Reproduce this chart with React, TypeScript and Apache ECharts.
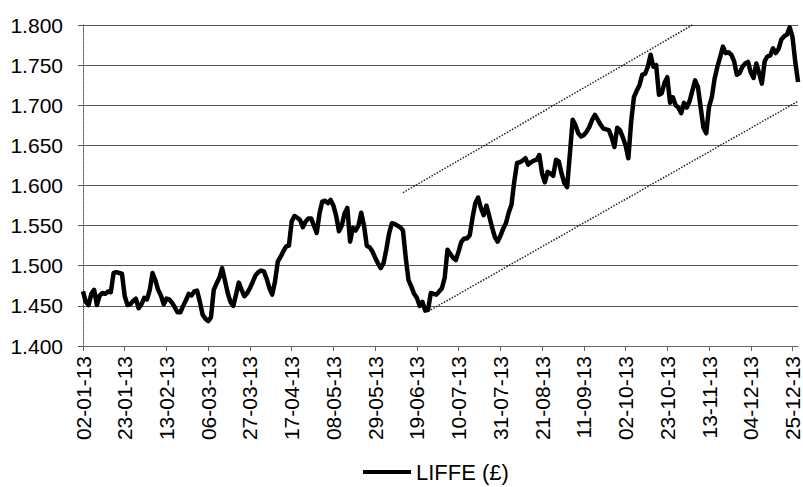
import React, { useEffect, useRef } from "react";
import * as echarts from "echarts";

const startDate = "2013-01-02";
const pointCount = 258;

const liffe = [
  1.468, 1.455, 1.451, 1.465, 1.470, 1.451, 1.463, 1.466, 1.465, 1.468,
  1.467, 1.491, 1.492, 1.491, 1.490, 1.462, 1.451, 1.452, 1.456, 1.459,
  1.447, 1.452, 1.460, 1.458, 1.470, 1.491, 1.482, 1.470, 1.463, 1.452,
  1.459, 1.458, 1.454, 1.448, 1.442, 1.442, 1.450, 1.457, 1.465, 1.463,
  1.468, 1.469, 1.455, 1.439, 1.434, 1.431, 1.436, 1.470, 1.478, 1.485,
  1.497, 1.482, 1.466, 1.455, 1.450, 1.464, 1.479, 1.470, 1.462, 1.466,
  1.472, 1.480, 1.488, 1.492, 1.494, 1.493, 1.484, 1.472, 1.464, 1.480,
  1.505, 1.511, 1.518, 1.524, 1.525, 1.555, 1.562, 1.560, 1.557, 1.548,
  1.555, 1.559, 1.559, 1.550, 1.541, 1.565, 1.580, 1.581, 1.578, 1.582,
  1.575, 1.562, 1.543, 1.550, 1.565, 1.572, 1.530, 1.547, 1.544, 1.550,
  1.566, 1.550, 1.525, 1.523, 1.518, 1.510, 1.503, 1.497, 1.503, 1.520,
  1.540, 1.553, 1.552, 1.550, 1.548, 1.544, 1.510, 1.482, 1.474, 1.465,
  1.460, 1.450, 1.455, 1.444, 1.445, 1.466, 1.465, 1.464, 1.468, 1.472,
  1.485, 1.520, 1.515, 1.510, 1.507, 1.518, 1.530, 1.534, 1.534, 1.538,
  1.560, 1.578, 1.585, 1.572, 1.563, 1.575, 1.562, 1.548, 1.536, 1.530,
  1.537, 1.546, 1.553, 1.566, 1.576, 1.605, 1.628, 1.629, 1.631, 1.634,
  1.626, 1.629, 1.631, 1.632, 1.638, 1.615, 1.604, 1.617, 1.615, 1.612,
  1.632, 1.630, 1.615, 1.603, 1.598, 1.640, 1.682, 1.675, 1.665, 1.661,
  1.663, 1.667, 1.673, 1.682, 1.688, 1.682, 1.676, 1.671, 1.670, 1.669,
  1.660, 1.648, 1.672, 1.669, 1.660, 1.650, 1.634, 1.679, 1.710, 1.718,
  1.725, 1.738, 1.739, 1.748, 1.763, 1.748, 1.750, 1.713, 1.715, 1.728,
  1.735, 1.703, 1.710, 1.700, 1.697, 1.690, 1.703, 1.697, 1.705, 1.718,
  1.731, 1.723, 1.697, 1.672, 1.665, 1.698, 1.710, 1.733, 1.748, 1.760,
  1.773, 1.765, 1.766, 1.763, 1.755, 1.738, 1.740, 1.748, 1.752, 1.754,
  1.741, 1.734, 1.752, 1.740, 1.727, 1.755, 1.761, 1.762, 1.771, 1.765,
  1.770, 1.782, 1.786, 1.788, 1.797, 1.785, 1.754, 1.729,
];

const upperChannel = [
  [115, 1.591],
  [219, 1.8],
];
const lowerChannel = [
  [125, 1.445],
  [257, 1.705],
];

const yMin = 1.4;
const yMax = 1.8;
const yStep = 0.05;
const labelEvery = 15;

function pad(n: number) {
  return n < 10 ? "0" + n : "" + n;
}

function tradingDays(start: string, count: number): string[] {
  const out: string[] = [];
  const d = new Date(start + "T00:00:00Z");
  while (out.length < count) {
    const wd = d.getUTCDay();
    if (wd !== 0 && wd !== 6) {
      out.push(
        pad(d.getUTCDate()) +
          "-" +
          pad(d.getUTCMonth() + 1) +
          "-" +
          pad(d.getUTCFullYear() % 100)
      );
    }
    d.setUTCDate(d.getUTCDate() + 1);
  }
  return out;
}

const FONT = "'Liberation Sans', Arial, Helvetica, sans-serif";

export default function App() {
  const ref = useRef<HTMLDivElement>(null);

  useEffect(() => {
    if (!ref.current) return;
    const chart = echarts.init(ref.current, undefined, { renderer: "svg" });
    const categories = tradingDays(startDate, pointCount);
    chart.setOption({
      animation: false,
      backgroundColor: "#ffffff",
      textStyle: { fontFamily: FONT },
      grid: { left: 83, right: 0, top: 25, bottom: 141, containLabel: false },
      legend: {
        data: ["LIFFE (£)"],
        left: 363,
        top: 461,
        padding: 0,
        icon: "rect",
        itemWidth: 48,
        itemHeight: 4,
        textStyle: {
          fontSize: 22,
          lineHeight: 22,
          color: "#000",
          fontFamily: FONT,
        },
      },
      xAxis: {
        type: "category",
        data: categories,
        boundaryGap: false,
        axisLine: { show: true, lineStyle: { color: "#666", width: 1 } },
        axisTick: {
          show: true,
          interval: labelEvery - 1,
          length: 5,
          lineStyle: { color: "#666" },
        },
        axisLabel: {
          interval: labelEvery - 1,
          rotate: 90,
          margin: 10,
          fontSize: 21,
          color: "#000",
          fontFamily: FONT,
        },
        splitLine: { show: false },
      },
      yAxis: {
        type: "value",
        min: yMin,
        max: yMax,
        interval: yStep,
        axisLine: {
          show: true,
          lineStyle: { color: "#555", width: 1, type: "dotted" },
        },
        axisTick: { show: true, length: 5, lineStyle: { color: "#555" } },
        axisLabel: {
          margin: 20,
          fontSize: 21,
          color: "#000",
          fontFamily: FONT,
          formatter: (v: number) => v.toFixed(3),
        },
        splitLine: { show: true, lineStyle: { color: "#555", width: 1 } },
      },
      series: [
        {
          name: "LIFFE (£)",
          type: "line",
          data: liffe,
          symbol: "none",
          color: "#000",
          lineStyle: { color: "#000", width: 4.5, join: "round" },
          z: 3,
        },
        {
          name: "upper",
          type: "line",
          data: upperChannel,
          symbol: "none",
          lineStyle: { color: "#222", width: 1.5, type: "dotted" },
          z: 2,
        },
        {
          name: "lower",
          type: "line",
          data: lowerChannel,
          symbol: "none",
          lineStyle: { color: "#222", width: 1.5, type: "dotted" },
          z: 2,
        },
      ],
    });
    return () => chart.dispose();
  }, []);

  return (
    <div
      ref={ref}
      style={{ width: 803, height: 487, position: "absolute", left: 0, top: 0 }}
    />
  );
}
